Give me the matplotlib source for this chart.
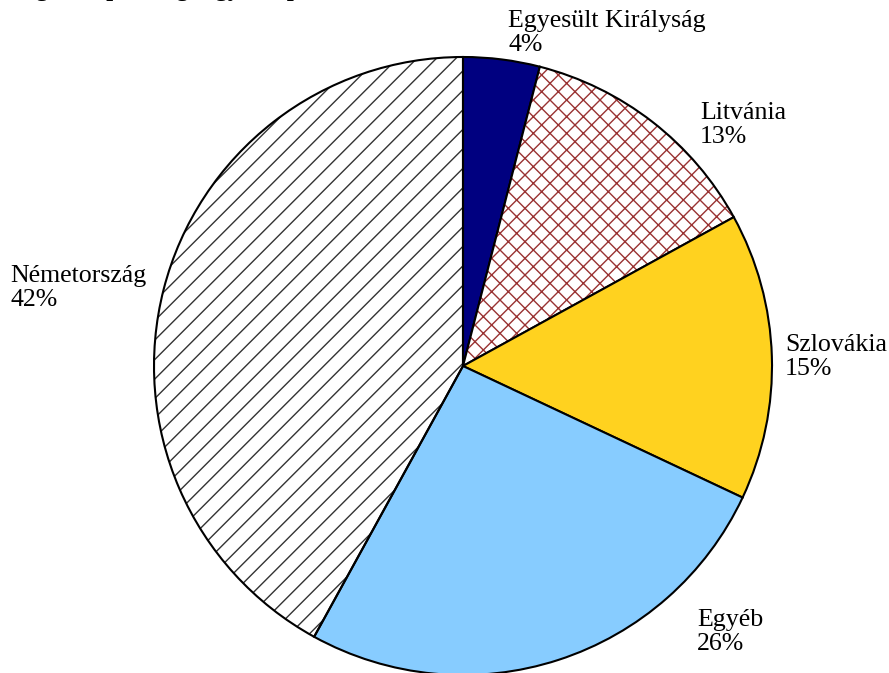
import matplotlib
matplotlib.use("Agg")
import numpy as np
import matplotlib.pyplot as plt
from matplotlib.colors import to_rgba

plt.rcParams['font.family'] = ['Liberation Serif', 'DejaVu Serif']
plt.rcParams['hatch.linewidth'] = 1.0

# data
countries = ['Egyesült Királyság', 'Litvánia', 'Szlovákia', 'Egyéb', 'Németország']
shares = [4, 13, 15, 26, 42]

colors = ['#000080', 'white', '#FFD21F', '#87CCFF', 'white']
hatches = [None, 'xx', None, None, 'diag']
hatch_colors = ['black', '#993333', 'black', 'black', '#333333']

# pie centre / radius in pixels of the 889x673 picture
W, H = 889, 673
cx, cy, R = 463, 366, 309

fig = plt.figure(figsize=(W / 100, H / 100), dpi=100)
ax = fig.add_axes([0, 0, 1, 1])

wedges, _ = ax.pie(shares, startangle=90, counterclock=False, colors=colors,
                   radius=1.0, center=(0, 0),
                   wedgeprops=dict(edgecolor='black', linewidth=1.5, zorder=1))
for w, h, hc in zip(wedges, hatches, hatch_colors):
    w.set_edgecolor('black')
    if h == 'diag':
        # wider diagonal hatch than matplotlib's '/' allows, clipped to the wedge
        step = 19.5 / R
        for c in np.arange(-2.2, 2.2, step):
            ln, = ax.plot([-1.2, 1.2], [-1.2 + c, 1.2 + c], color=hc, lw=1.0, zorder=0.5)
            ln.set_clip_path(w)
        w.set_facecolor('none')
        w.set_zorder(1)
    elif h:
        w.set_hatch(h)
        if hasattr(w, 'set_hatchcolor'):
            w.set_hatchcolor(hc)
        else:
            w._hatch_color = to_rgba(hc)

ax.set_aspect('auto')
ax.set_xlim(-cx / R, (W - cx) / R)
ax.set_ylim(-(H - cy) / R, cy / R)
ax.axis('off')

# label positions (left edge, middle of block) in pie units
label_pos = [(0.146, 1.078), (0.767, 0.78), (1.042, 0.029), (0.757, -0.861), (-1.466, 0.252)]
for name, s, (lx, ly) in zip(countries, shares, label_pos):
    ax.text(lx, ly, f'{name}\n{s}%', ha='left', va='center', fontsize=18.6,
            linespacing=1.1)

# title, cut off by the top edge
fig.text(0.02, 1.0 + 4 / H, 'Agrárexport legnagyobb piacai 2009-ben', ha='left',
         va='baseline', fontsize=18, fontweight='bold')

fig.savefig('out.png', dpi=100)
